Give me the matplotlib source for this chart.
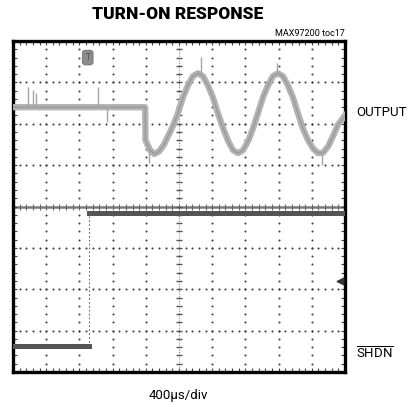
import numpy as np
import matplotlib.pyplot as plt
from matplotlib.ticker import MultipleLocator

plt.rcParams['mathtext.fontset'] = 'custom'
plt.rcParams['mathtext.rm'] = 'Roboto'

# scope trace, in divisions (x: 0..10, y: 0..8)
out_x = [0, 3.98, 3.99, 4.13, 4.25, 4.40, 4.55, 4.70, 4.82, 4.97, 5.12, 5.27, 5.42, 5.57,
         5.72, 5.87, 6.02, 6.17, 6.33, 6.48, 6.63, 6.78, 6.93, 7.08, 7.23, 7.38, 7.53, 7.68,
         7.83, 7.98, 8.13, 8.28, 8.43, 8.58, 8.73, 8.89, 9.04, 9.19, 9.34, 9.49, 9.64, 9.79, 10.0]
out_y = [6.40, 6.40, 5.60, 5.36, 5.27, 5.33, 5.50, 5.75, 5.95, 6.26, 6.64, 6.93, 7.15, 7.22,
         7.15, 6.93, 6.64, 6.26, 5.89, 5.58, 5.36, 5.29, 5.36, 5.58, 5.89, 6.26, 6.64, 6.93,
         7.15, 7.22, 7.15, 6.93, 6.64, 6.26, 5.89, 5.60, 5.40, 5.29, 5.30, 5.45, 5.70, 5.98, 6.20]

# noise spikes on the output trace
spike_x = [0.45, 0.60, 0.69, 2.56, 2.83, 4.10, 5.65, 7.95, 9.30]
spike_base = [6.40, 6.40, 6.40, 6.40, 6.40, 5.36, 7.22, 7.22, 5.29]
spike_top = [6.88, 6.81, 6.75, 6.88, 6.05, 5.05, 7.61, 7.46, 5.00]

# SHDN trace
shdn_x = [0, 2.29, 10]
shdn_y = [0.64, 3.84]

fig = plt.figure(figsize=(4.14, 4.07), dpi=100)
ax = fig.add_axes([13 / 414, 35 / 407, 332 / 414, 331 / 407])
ax.set_xlim(0, 10)
ax.set_ylim(0, 8)

# graticule dots
dots = np.arange(0, 10.01, 0.2)
for gx in range(1, 10):
    if gx == 5:
        continue
    ax.scatter(np.full(41, gx), np.arange(0, 8.01, 0.2), s=2.2, c='#404040', lw=0, zorder=1)
for gy in range(1, 8):
    if gy == 4:
        continue
    ax.scatter(dots, np.full(len(dots), gy), s=2.2, c='#404040', lw=0, zorder=1)

# center cross
ax.axhline(4, color='#7a7a7a', lw=1.8, zorder=1)
ax.scatter(dots, np.full(len(dots), 4), marker='|', s=14, c='#666666', lw=0.8, zorder=1)
ax.axvline(5, color='#7a7a7a', lw=0.7, ls=(0, (1, 1.5)), zorder=1)
ax.scatter(np.full(41, 5), np.arange(0, 8.01, 0.2), marker='_', s=18, c='#555555', lw=1.0, zorder=1)

# output trace
ax.plot(out_x, out_y, color='#b3b3b3', lw=4.5, solid_joinstyle='round', zorder=3)
ax.plot(out_x, out_y, color='#9a9a9a', lw=1.0, zorder=3)
ax.vlines(spike_x, spike_base, spike_top, color='#a5a5a5', lw=1.0, zorder=3)

# shdn trace
ax.plot(shdn_x[:2], [shdn_y[0]] * 2, color='#555555', lw=3.6, zorder=3)
ax.plot(shdn_x[1:], [shdn_y[1]] * 2, color='#555555', lw=3.6, zorder=3)
ax.plot([shdn_x[1]] * 2, shdn_y, color='#666666', lw=0.8, ls=(0, (1.5, 2)), zorder=3)

# trigger markers
ax.text(2.25, 7.6, 'T', ha='center', va='center', fontsize=6, color='#555555',
        bbox=dict(boxstyle='round,pad=0.35', fc='#8c8c8c', ec='#6a6a6a', lw=0.5), zorder=4)
ax.scatter([9.85], [2.2], marker='<', s=22, c='#333333', zorder=4)

# frame ticks
ax.xaxis.set_major_locator(MultipleLocator(1))
ax.yaxis.set_major_locator(MultipleLocator(1))
ax.xaxis.set_minor_locator(MultipleLocator(0.2))
ax.yaxis.set_minor_locator(MultipleLocator(0.2))
ax.tick_params(which='both', direction='in', top=True, right=True, length=3, width=0.8,
               color='#444444', labelbottom=False, labelleft=False)
for s in ax.spines.values():
    s.set_linewidth(2.4)

fig.text(178 / 414, 1 - 14 / 407, 'TURN-ON RESPONSE', ha='center', va='center',
         fontsize=12.5, fontweight='black', family='Roboto')
fig.text(345 / 414, 1 - 33 / 407, 'MAX97200 toc17', ha='right', va='center',
         fontsize=6.5, family='Roboto')
fig.text(356 / 414, 1 - 112 / 407, 'OUTPUT', ha='left', va='center',
         fontsize=9.5, family='Roboto')
fig.text(356 / 414, 1 - 354 / 407, r'$\overline{\mathrm{SHDN}}$', ha='left', va='center',
         fontsize=9.5)
fig.text(178 / 414, 1 - 395 / 407, '400µs/div', ha='center', va='center',
         fontsize=9.5, family='Roboto')

fig.savefig('out.png', dpi=100)
